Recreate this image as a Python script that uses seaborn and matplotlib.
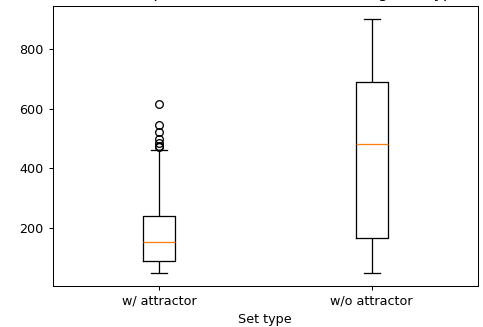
import matplotlib
matplotlib.use("Agg")
import matplotlib.pyplot as plt
import seaborn as sns
import pandas as pd

# ---- data ----
set_types = ["w/ attractor", "w/o attractor"]
steps_with_attractor = [52, 58, 63, 68, 73, 78, 84, 88,
                        92, 100, 108, 116, 124, 132, 140, 147,
                        154, 165, 178, 190, 203, 215, 228, 236,
                        242, 460, 470, 476, 484, 499, 522, 545, 615]
steps_without_attractor = [50, 169, 483, 690, 900]
title_text = "Median steps until the network is settling, Set type"
x_label = "Set type"

df = pd.DataFrame({
    "Set type": [set_types[0]] * len(steps_with_attractor)
                + [set_types[1]] * len(steps_without_attractor),
    "steps": steps_with_attractor + steps_without_attractor,
})

DPI = 92
fig = plt.figure(figsize=(483 / DPI, 327 / DPI), dpi=DPI)
ax = fig.add_axes([52.5 / 483, 1 - 286 / 327, (478 - 52.5) / 483, (286 - 6) / 327])

sns.boxplot(
    data=df, x="Set type", y="steps", order=set_types, ax=ax,
    width=0.15, fill=False, color="black", linewidth=1.0,
    medianprops=dict(color="#ff7f0e", linewidth=1.0),
    flierprops=dict(marker="o", markerfacecolor="none",
                    markeredgecolor="black", markersize=6, markeredgewidth=1.0),
    whiskerprops=dict(color="black", linewidth=1.0),
    capprops=dict(color="black", linewidth=1.0),
    boxprops=dict(color="black", linewidth=1.0),
)

ax.set_xlim(-0.5, 1.5)
ax.set_ylim(7.5, 942.5)
ax.set_yticks([200, 400, 600, 800])
ax.set_xlabel(x_label)
ax.set_ylabel("")
ax.set_title(title_text)

fig.savefig("out.png", dpi=DPI)
